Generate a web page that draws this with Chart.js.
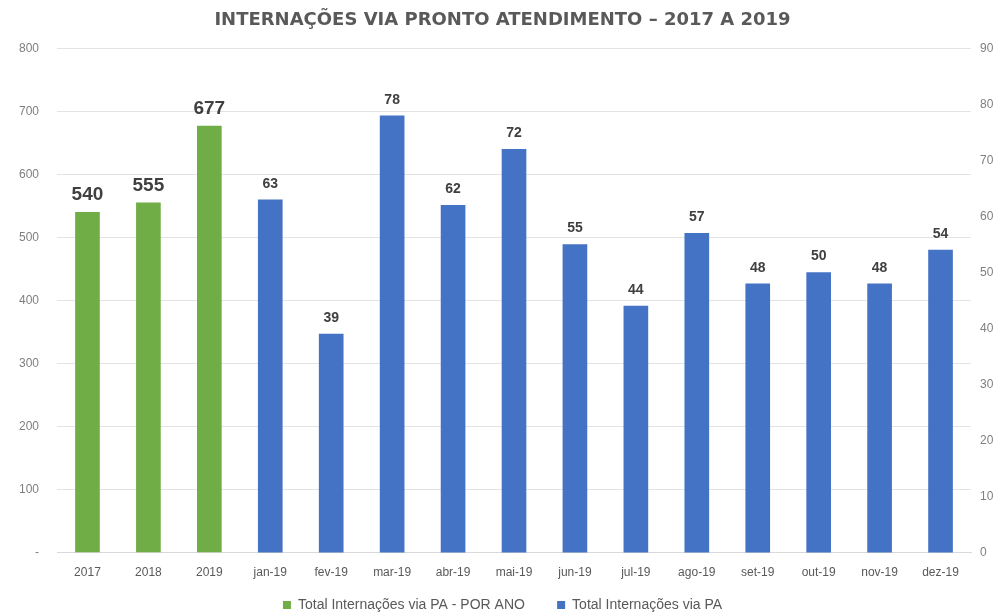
<!DOCTYPE html>
<html><head><meta charset="utf-8">
<script src="https://cdn.jsdelivr.net/npm/chart.js@4/dist/chart.umd.min.js"></script>
<style>html,body{margin:0;padding:0;background:#fff}#wrap{width:1005px;height:613px}</style>
</head><body><div id="wrap"><canvas id="c" width="1005" height="613"></canvas></div>
<script>
const categories = ['2017','2018','2019','jan-19','fev-19','mar-19','abr-19','mai-19','jun-19','jul-19','ago-19','set-19','out-19','nov-19','dez-19'];
const yearlyValues = [540, 555, 677, null, null, null, null, null, null, null, null, null, null, null, null];
const monthlyValues = [null, null, null, 63, 39, 78, 62, 72, 55, 44, 57, 48, 50, 48, 54];
const leftTicks = [0,100,200,300,400,500,600,700,800];
const rightTicks = [0,10,20,30,40,50,60,70,80,90];

const labelPlugin = {
  id: 'valueLabels',
  afterDatasetsDraw(chart) {
    const ctx = chart.ctx;
    chart.data.datasets.forEach((ds, di) => {
      const meta = chart.getDatasetMeta(di);
      meta.data.forEach((bar, i) => {
        const v = ds.data[i];
        if (v === null || v === undefined) return;
        ctx.save();
        ctx.fillStyle = '#404040';
        ctx.textAlign = 'center';
        ctx.textBaseline = 'bottom';
        if (di === 0) {
          ctx.font = 'bold 19px "Liberation Sans", Arial, sans-serif';
          ctx.fillText(String(v), bar.x, bar.y - 8);
        } else {
          ctx.font = 'bold 14px "Liberation Sans", Arial, sans-serif';
          ctx.fillText(String(v), bar.x, bar.y - 9);
        }
        ctx.restore();
      });
    });
  }
};

new Chart(document.getElementById('c'), {
  type: 'bar',
  data: {
    labels: categories,
    datasets: [
      { label: 'Total Internações via PA - POR ANO', data: yearlyValues, backgroundColor: '#70AD47', yAxisID: 'y', barThickness: 24, grouped: false },
      { label: 'Total Internações via PA', data: monthlyValues, backgroundColor: '#4472C4', yAxisID: 'y1', barThickness: 24, grouped: false }
    ]
  },
  options: {
    responsive: false,
    animation: false,
    layout: { padding: { top: 6, left: 7, right: 7, bottom: -9 } },
    plugins: {
      title: {
        display: true,
        text: 'INTERNAÇÕES VIA PRONTO ATENDIMENTO – 2017 A 2019',
        color: '#595959',
        font: { family: '"DejaVu Sans", sans-serif', size: 18, weight: 'bold' },
        padding: { top: 4, bottom: 17 }
      },
      legend: {
        position: 'bottom',
        labels: {
          color: '#595959',
          font: { family: '"Liberation Sans", Arial, sans-serif', size: 14 },
          boxWidth: 8, boxHeight: 8, padding: 5,
          generateLabels(chart) {
            const items = Chart.defaults.plugins.legend.labels.generateLabels(chart);
            if (items.length) items[0].text = items[0].text + '       ';
            return items;
          }
        }
      },
      tooltip: { enabled: false }
    },
    scales: {
      x: {
        grid: { display: false, drawTicks: false },
        border: { color: '#D9D9D9' },
        ticks: { color: '#595959', font: { family: '"Liberation Sans", Arial, sans-serif', size: 12 }, padding: 13, maxRotation: 0, autoSkip: false }
      },
      y: {
        position: 'left',
        min: 0, max: 800,
        afterBuildTicks(scale) { scale.ticks = leftTicks.map(v => ({ value: v })); },
        afterFit(scale) { scale.width = 50; },
        grid: { color: '#E3E3E3', drawTicks: false },
        border: { display: false },
        ticks: { color: '#7F7F7F', font: { family: '"Liberation Sans", Arial, sans-serif', size: 12 }, padding: 18,
          callback: v => v === 0 ? '-' : String(v) }
      },
      y1: {
        position: 'right',
        min: 0, max: 90,
        afterBuildTicks(scale) { scale.ticks = rightTicks.map(v => ({ value: v })); },
        afterFit(scale) { scale.width = 27; },
        grid: { display: false, drawTicks: false },
        border: { display: false },
        ticks: { color: '#7F7F7F', font: { family: '"Liberation Sans", Arial, sans-serif', size: 12 }, padding: 9 }
      }
    }
  },
  plugins: [labelPlugin]
});
</script></body></html>
